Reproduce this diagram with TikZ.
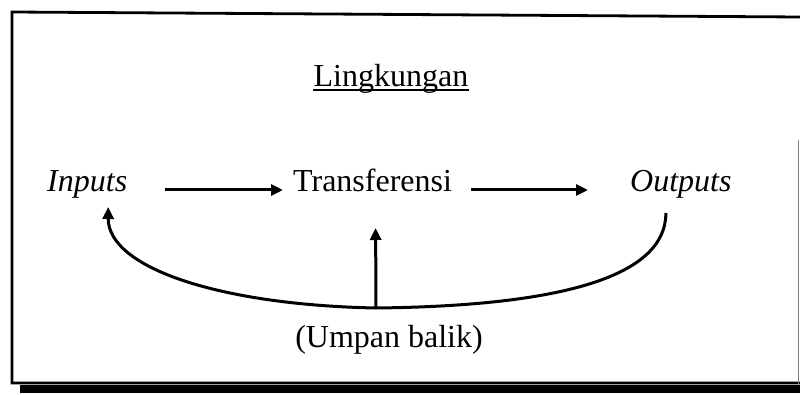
\documentclass[tikz,border=0pt]{standalone}
\usepackage{fontspec}
\setmainfont{Liberation Serif}
\usetikzlibrary{arrows.meta}
\begin{document}
\begin{tikzpicture}[x=1pt,y=-1pt,
  lbl/.style={inner sep=0pt, font=\fontsize{32}{38}\selectfont},
  ilbl/.style={lbl, font=\fontsize{32}{38}\selectfont\itshape},
  conn/.style={line width=3pt, -{Triangle[length=12pt,width=11pt]}},
  wire/.style={line width=3pt},
]
\useasboundingbox (0,0) rectangle (800,395);

% frame with a drop shadow along the bottom
\draw[line width=2.8pt] (800,17) -- (12,12) -- (12,383) -- (800,383);
\fill (20,385) rectangle (800,393);
\draw[gray, line width=1.4pt] (798.5,140) -- (798.5,384);

% labels
\node[lbl, anchor=base] (env) at (391,87) {Lingkungan};
\draw[line width=1.8pt] ([yshift=-3pt]env.base west) -- ([yshift=-3pt]env.base east);

\node[ilbl, anchor=base west] (in)  at (47,192)  {Inputs};
\node[lbl,  anchor=base west] (tr)  at (293,192) {Transferensi};
\node[ilbl, anchor=base west] (out) at (630,192) {Outputs};
\node[lbl,  anchor=base]      (fb)  at (389,347) {(Umpan balik)};

% forward flow
\draw[conn] ([shift={(38,-2)}]in.base east) -- ([shift={(-10,-2)}]tr.base west);
\draw[conn] ([shift={(19,-2)}]tr.base east) -- ([shift={(-42,-2)}]out.base west);

% feedback loop
\coordinate (join) at (376,308);
\coordinate (inTip) at ([shift={(21,15)}]in.base);
\coordinate (outEnd) at ([shift={(-15,21)}]out.base);
\draw[conn] (join) .. controls (220,305) and (108,268) .. (inTip);
\draw[wire] (join) .. controls (560,306) and (666,277) .. (outEnd);
\draw[conn] (join) -- ([shift={(3,36)}]tr.base);
\end{tikzpicture}
\end{document}
